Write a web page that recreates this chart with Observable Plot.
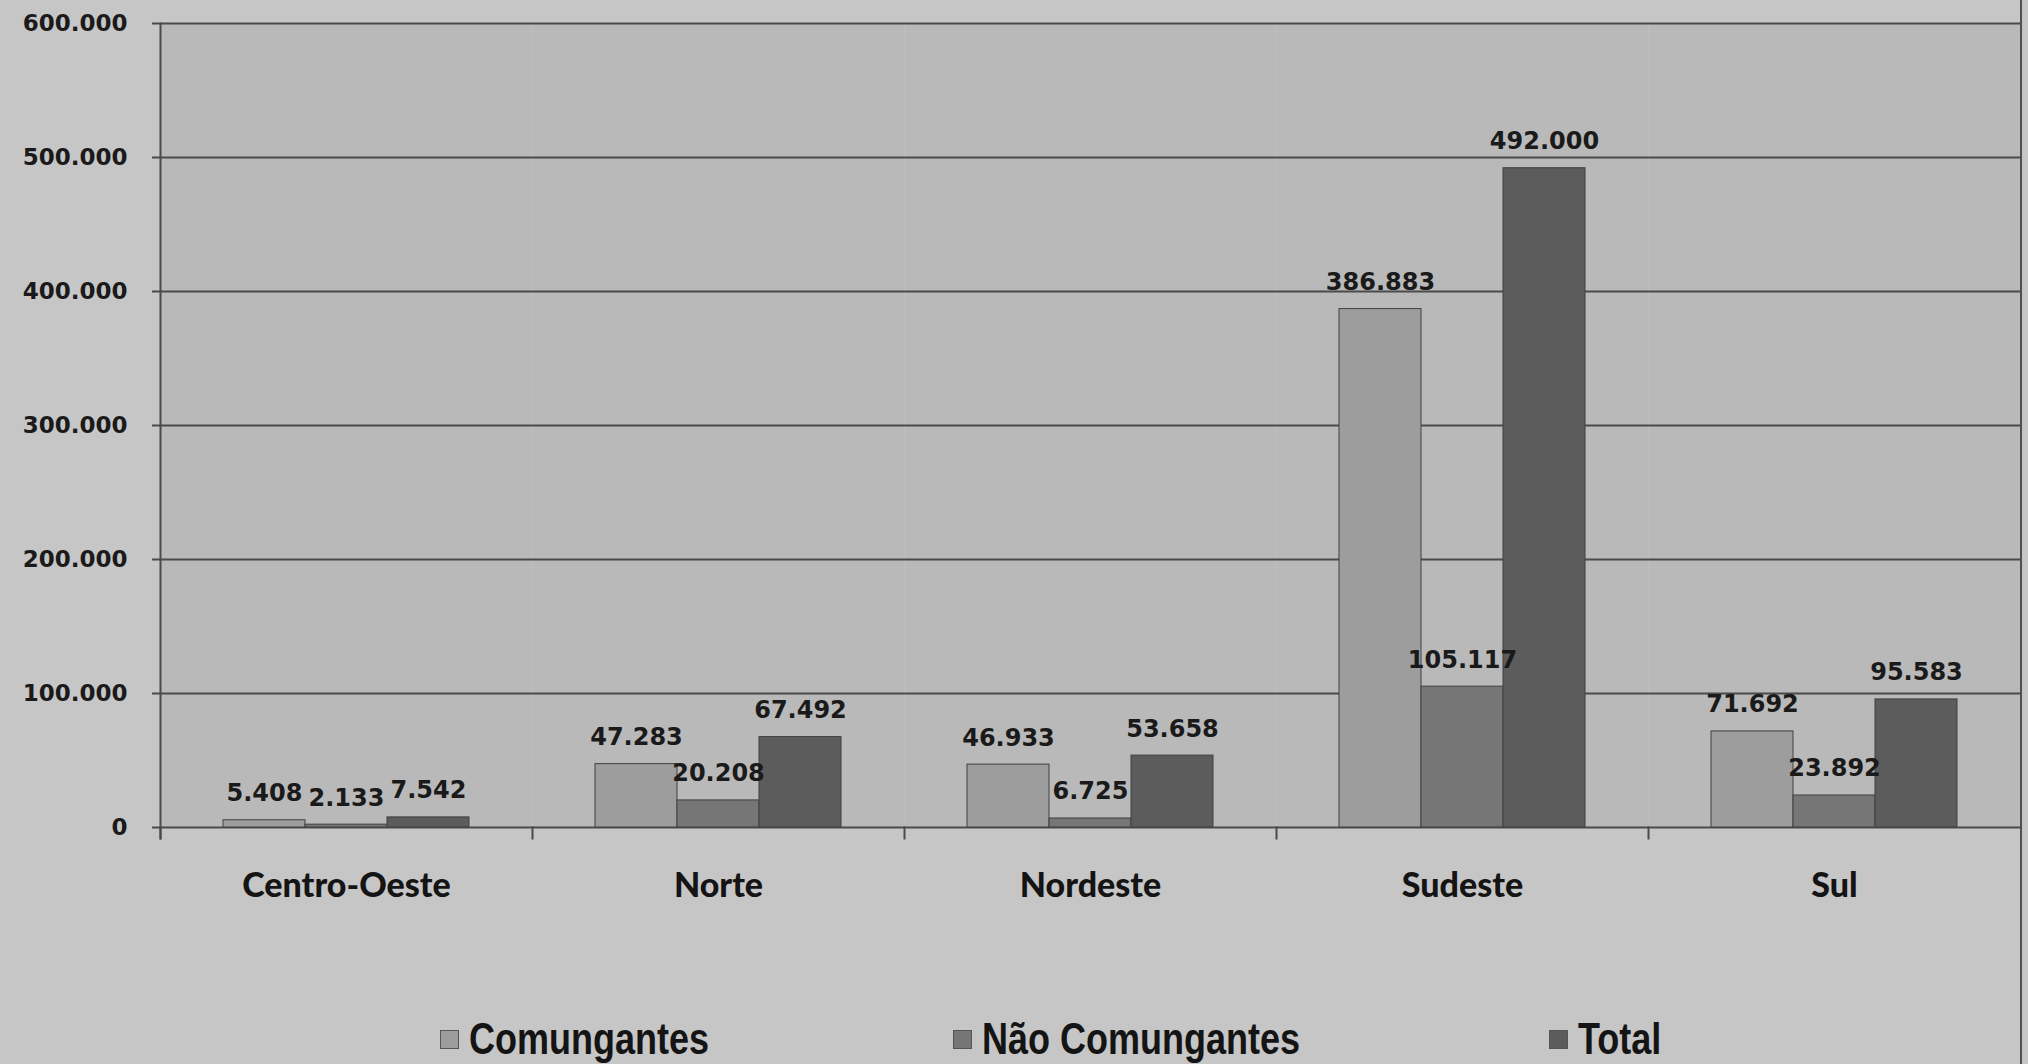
<!DOCTYPE html>
<html>
<head>
<meta charset="utf-8">
<script src="https://cdn.jsdelivr.net/npm/d3@7"></script>
<script src="https://cdn.jsdelivr.net/npm/@observablehq/plot@0.6"></script>
<style>
  html, body { margin: 0; padding: 0; background: #c6c6c6; }
  body { width: 2028px; height: 1064px; position: relative; overflow: hidden; }
  #legend { position: absolute; left: 0; top: 950px; width: 2028px; height: 114px; }
  .item { position: absolute; top: 63px; display: flex; align-items: center; }
  .lbl { font-family: "Liberation Sans", Arimo, sans-serif; font-weight: bold; font-size: 45px; color: #141414;
         display: inline-block; transform: scaleX(0.8); transform-origin: left center; white-space: nowrap; }
  .sw { width: 19px; height: 19px; margin-right: 10px; border: 1px solid #555; box-sizing: border-box; }
  #rborder { position: absolute; left: 2020px; top: 0; width: 2px; height: 1064px; background: #505050; }
</style>
</head>
<body>
<div id="chart"></div>
<div id="legend"></div>
<div id="rborder"></div>
<script>
const regions = ["Centro-Oeste", "Norte", "Nordeste", "Sudeste", "Sul"];
const series = ["Comungantes", "Não Comungantes", "Total"];
const comungantes = [5408, 47283, 46933, 386883, 71692];
const naoComungantes = [2133, 20208, 6725, 105117, 23892];
const total = [7542, 67492, 53658, 492000, 95583];
const yTicks = [0, 100000, 200000, 300000, 400000, 500000, 600000];
const colors = ["#9d9d9d", "#767676", "#5c5c5c"];
const legendLeft = [440, 953, 1549];

const values = [comungantes, naoComungantes, total];
const data = [];
regions.forEach((r, i) => series.forEach((s, j) => data.push({region: r, series: s, value: values[j][i]})));

const fmt = d3.formatLocale({decimal: ",", thousands: ".", grouping: [3], currency: ["R$", ""]}).format(",d");

const H = 950, mTop = 23, mBottom = 123;
const plotH = H - mTop - mBottom;
const numFont = "'DejaVu Sans', Verdana, sans-serif";

const chart = Plot.plot({
  width: 2028,
  height: H,
  marginLeft: 160,
  marginRight: 8,
  marginTop: mTop,
  marginBottom: mBottom,
  style: {background: "transparent", fontFamily: numFont, color: "#1a1a1a"},
  fx: {domain: regions, padding: 0, label: null, axis: null},
  x: {domain: series, paddingInner: 0, paddingOuter: 0.75, axis: null},
  y: {domain: [0, 600000], label: null, axis: null},
  color: {domain: series, range: colors},
  marks: [
    Plot.frame({fill: "#b9b9b9", stroke: null}),
    Plot.gridY(yTicks, {stroke: "#4a4a4a", strokeOpacity: 1, strokeWidth: 2}),
    Plot.barY(data, {fx: "region", x: "series", y: "value", fill: "series", stroke: "#404040", strokeWidth: 1}),
    Plot.text(data, {fx: "region", x: "series", y: "value", text: d => fmt(d.value),
      dy: -19, lineAnchor: "bottom", fontSize: 24, fontWeight: "bold", fill: "#1a1a1a",
      fontFamily: numFont}),
    Plot.axisY(yTicks, {tickFormat: fmt, tickSize: 8, tickPadding: 25, fontSize: 23, fontWeight: "bold",
      stroke: "#4a4a4a", strokeWidth: 2, label: null, fontFamily: numFont}),
    Plot.axisFx({anchor: "bottom", tickSize: 0, tickPadding: 45, fontSize: 34, fontWeight: 900, label: null,
      fill: "#141414", fontFamily: "Lato, 'Open Sans', sans-serif"}),
    Plot.frame({anchor: "left", insetTop: plotH, insetBottom: -11, stroke: "#4a4a4a", strokeWidth: 2}),
    Plot.frame({anchor: "left", fx: () => regions[0], insetBottom: -11, stroke: "#4a4a4a", strokeWidth: 2})
  ]
});
document.getElementById("chart").appendChild(chart);

const legend = document.getElementById("legend");
series.forEach((s, i) => {
  const it = document.createElement("div");
  it.className = "item";
  it.style.left = legendLeft[i] + "px";
  const sw = document.createElement("span");
  sw.className = "sw";
  sw.style.background = colors[i];
  const t = document.createElement("span");
  t.className = "lbl";
  t.textContent = s;
  it.appendChild(sw);
  it.appendChild(t);
  legend.appendChild(it);
});
</script>
</body>
</html>
